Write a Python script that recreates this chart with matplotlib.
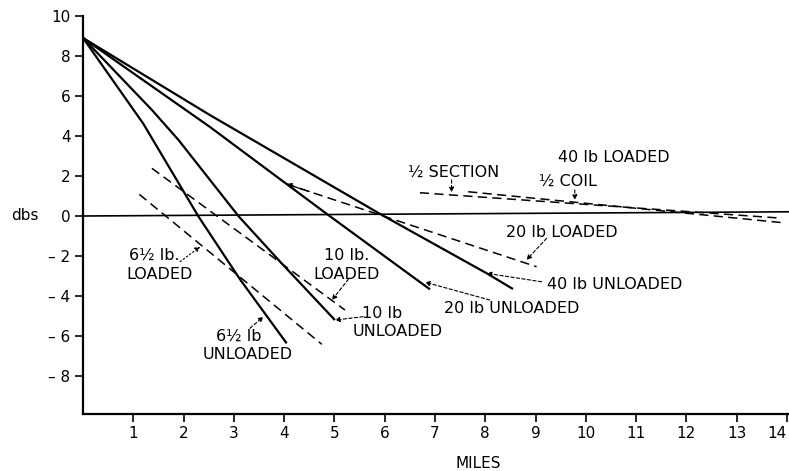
import matplotlib
matplotlib.use("Agg")
import matplotlib.pyplot as plt

# attenuation (dbs) against length of line (miles)
mi_65_unl = [0, 1.2, 2.29, 3.12, 4.05]
db_65_unl = [8.88, 4.6, 0.0, -3.15, -6.35]
mi_10_unl = [0, 1.37, 1.9, 3.09, 3.92, 5.01]
db_10_unl = [8.88, 5.29, 3.79, 0.0, -2.28, -5.19]
mi_20_unl = [0, 2.52, 4.85, 6.9]
db_20_unl = [8.88, 4.45, 0.1, -3.66]
mi_40_unl = [0, 2.52, 5.91, 8.03, 8.55]
db_40_unl = [8.88, 5.04, 0.1, -2.86, -3.64]

mi_65_ld = [1.12, 4.75]
db_65_ld = [1.08, -6.4]
mi_10_ld = [1.37, 5.21]
db_10_ld = [2.38, -4.69]
mi_20_ld = [4.04, 9.02]
db_20_ld = [1.6, -2.53]
mi_40_sec = [6.7, 13.9]
db_40_sec = [1.16, -0.11]
mi_40_coil = [7.66, 13.9]
db_40_coil = [1.21, -0.33]

zero_mi = [0, 14.04]
zero_db = [0.0, 0.21]

xticks = list(range(1, 15))
yticks = [-8, -6, -4, -2, 0, 2, 4, 6, 8, 10]
ylabels = ['– 8', '– 6', '– 4', '– 2', '0', '2', '4', '6', '8', '10']

plt.rcParams['font.family'] = ['DejaVu Sans']

fig = plt.figure(figsize=(7.89, 4.71), dpi=100)
ax = fig.add_axes([83/789, 1 - 413.5/471, 1 - 83/789, (413.5 - 15.5)/471])
ax.set_xlim(0, 14.04)
ax.set_ylim(-9.85, 10)

for s in ['top', 'right']:
    ax.spines[s].set_visible(False)
for s in ['left', 'bottom']:
    ax.spines[s].set_linewidth(1.6)

ax.set_xticks(xticks)
ax.set_xticklabels([str(t) for t in xticks], fontsize=11)
ax.set_yticks(yticks)
ax.set_yticklabels(ylabels, fontsize=11)
ax.tick_params(length=6, width=1.2, pad=3)
# last label sits at the figure edge
ax.get_xticklabels()[-1].set_horizontalalignment('right')

ax.plot(zero_mi, zero_db, color='black', lw=1.2)

solid = dict(color='black', lw=1.6, solid_capstyle='butt')
ax.plot(mi_65_unl, db_65_unl, **solid)
ax.plot(mi_10_unl, db_10_unl, **solid)
ax.plot(mi_20_unl, db_20_unl, **solid)
ax.plot(mi_40_unl, db_40_unl, **solid)

dashed = dict(color='black', lw=1.1, dashes=(6, 3.5))
ax.plot(mi_65_ld, db_65_ld, **dashed)
ax.plot(mi_10_ld, db_10_ld, **dashed)
ax.plot(mi_20_ld, db_20_ld, **dashed)
ax.plot(mi_40_sec, db_40_sec, **dashed)
ax.plot(mi_40_coil, db_40_coil, **dashed)

# small head where the 20 lb loaded curve leaves the unloaded one
ax.annotate('', xy=(mi_20_ld[0], db_20_ld[0]), xytext=(4.5, 1.22),
            arrowprops=dict(arrowstyle='-|>', lw=0.9, color='black',
                            mutation_scale=8, shrinkA=0, shrinkB=0))

fs = 11.5
def label(x, y, s):
    ax.text(x, y, s, fontsize=fs, ha='center', va='center')

def pointer(x0, y0, x1, y1, ls=(0, (3, 2))):
    ax.annotate('', xy=(x1, y1), xytext=(x0, y0),
                arrowprops=dict(arrowstyle='-|>', lw=0.8, color='black',
                                linestyle=ls, mutation_scale=7,
                                shrinkA=0, shrinkB=0))

label(7.38, 2.17, '½ SECTION')
pointer(7.33, 1.8, 7.33, 1.18)
label(10.56, 2.92, '40 lb LOADED')
label(9.65, 1.75, '½ COIL')
pointer(9.78, 1.3, 9.78, 0.8)
label(9.53, -0.82, '20 lb LOADED')
pointer(9.22, -1.11, 8.82, -2.19)
label(10.58, -3.44, '40 lb UNLOADED')
pointer(9.12, -3.28, 8.03, -2.86)
label(8.53, -4.59, '20 lb UNLOADED')
pointer(8.09, -4.19, 6.8, -3.3)
label(5.95, -4.85, '10 lb')
label(6.25, -5.78, 'UNLOADED')
pointer(5.57, -5.02, 5.01, -5.19)
label(5.25, -1.98, '10 lb.')
label(5.25, -2.91, 'LOADED')
pointer(5.28, -3.15, 4.95, -4.19)
label(1.41, -1.98, '6½ lb.')
label(1.53, -2.91, 'LOADED')
pointer(1.93, -2.28, 2.33, -1.53, ls=(0, (1.5, 2)))
label(3.10, -5.98, '6½ lb')
label(3.28, -6.91, 'UNLOADED')
pointer(3.32, -5.6, 3.59, -5.02)

fig.text(25/789, 1 - 216/471, 'dbs', fontsize=11, ha='center', va='center')
fig.text(478/789, 1 - 464/471, 'MILES', fontsize=11, ha='center', va='center')

fig.savefig('out.png', dpi=100)
